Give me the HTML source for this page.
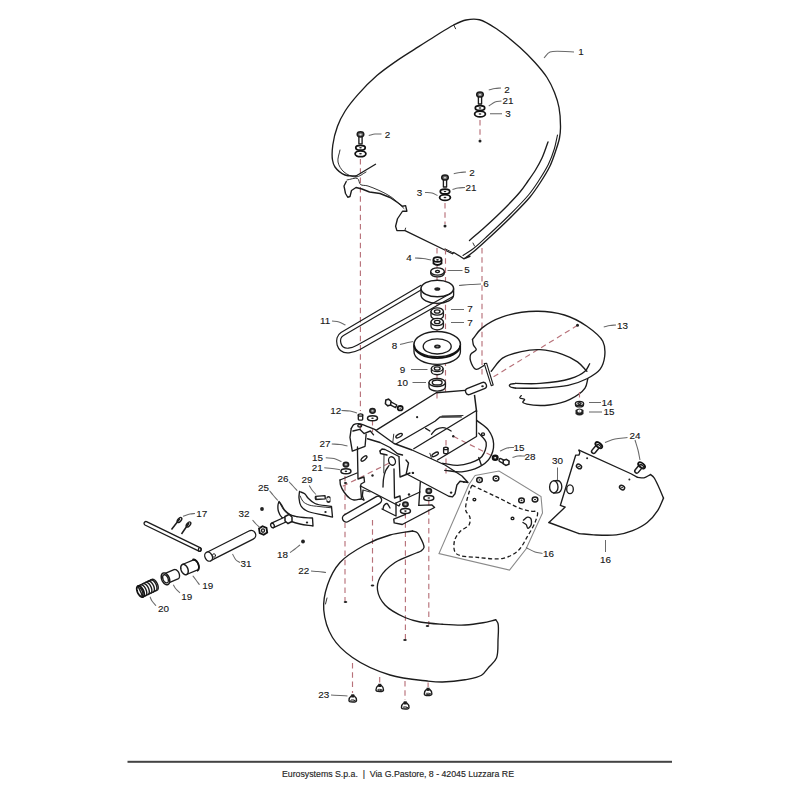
<!DOCTYPE html><html><head><meta charset="utf-8"><style>
html,body{margin:0;padding:0;background:#fff;width:800px;height:800px;overflow:hidden}
svg{display:block}
.k{fill:none;stroke:#1c1c1c;stroke-width:1.35;stroke-linejoin:round;stroke-linecap:round}
.k2{fill:none;stroke:#1c1c1c;stroke-width:1.5}
.k3{fill:none;stroke:#111;stroke-width:1.8}
.kt{fill:none;stroke:#1c1c1c;stroke-width:0.9;stroke-linecap:round}
.f{fill:#222;stroke:none}
.g{fill:none;stroke:#8a8a8a;stroke-width:1.1}
.r{fill:none;stroke:#b8727a;stroke-width:1.15;stroke-dasharray:5.5 3.8}
.ld{fill:none;stroke:#6a6a6a;stroke-width:1.05}
.dk{fill:none;stroke:#1c1c1c;stroke-width:1.3;stroke-dasharray:4 2.5}
text{font-family:"Liberation Sans",sans-serif;font-size:9.9px;fill:#151515;stroke:#151515;stroke-width:0.12px;text-anchor:middle}
.ft{font-size:8.8px;text-anchor:start;fill:#262626;stroke:#262626;stroke-width:0.15px}
</style></head><body>
<svg width="800" height="800" viewBox="0 0 800 800">
<line class="r" x1="360.4" y1="159" x2="360.4" y2="411"/>
<line class="r" x1="480" y1="120" x2="480" y2="139"/>
<line class="r" x1="445" y1="203" x2="445" y2="224"/>
<path class="k" d="M466,257.5 C469,255.17 471.67,253.28 475,250.5 C479.42,246.8 484.68,241.92 490,237 C496.22,231.24 503.41,224.58 510,218 C516.75,211.26 524.65,203.47 530,197 C534.12,192.02 536.77,187.97 540,183 C543.46,177.68 547.28,171.7 550,166 C552.53,160.7 554.34,154.98 556,150 C557.42,145.74 558.75,141.85 559.5,138 C560.17,134.55 560.45,131.93 560.5,128 C560.57,122.38 560.15,113.74 559,107.5 C558,102.05 556.45,97.42 554.5,92.5 C552.48,87.41 550.1,82.34 547,77.5 C543.68,72.32 539.37,67.38 535,62.5 C530.41,57.37 525.66,52.57 520,47.5 C513.4,41.59 504.79,34.34 497.5,29.5 C491.35,25.42 485.25,21.15 479.5,19.75 C474.83,18.61 470.31,19.11 466,20 C461.73,20.88 458.17,22.79 453.75,25 C448.06,27.85 441.37,32.31 435,36.25 C428.27,40.42 421.1,45.09 414.4,49.4 C407.98,53.53 401.79,57.28 395.6,61.6 C389.28,66.01 382.96,70.35 376.9,75.6 C370.44,81.2 363.63,88.13 358.1,94.4 C353.14,100.02 348.55,105.62 345,111.25 C341.86,116.24 339.5,120.85 337.5,126.25 C335.35,132.04 333.59,139.06 332.8,145 C332.1,150.24 331.85,155.99 332.5,160 C332.96,162.82 333.43,164.8 335,167 C337.06,169.89 341.35,173.53 345,175 C348.39,176.37 352.33,175.67 356,176" />
<path class="k" d="M356,176 L375.5,164.25" />
<path class="k" d="M463,255.5 C466.5,253.17 469.8,251.37 473.5,248.5 C478.18,244.87 483.18,239.92 488.5,235 C494.72,229.24 501.91,222.58 508.5,216 C515.25,209.26 523.15,201.47 528.5,195 C532.62,190.02 535.28,185.93 538.5,181 C541.9,175.79 545.61,170.03 548.3,164.5 C550.8,159.36 552.74,154.09 554.3,149 C555.75,144.27 556.43,139.67 557.5,135" style="stroke-width:1.1"/>
<path class="kt" d="M340,150 C339.33,154 337.3,158.3 338,162 C338.69,165.62 341.13,169.52 344,172 C347.03,174.62 352.21,177.13 356,177 C359.51,176.88 362.67,173.67 366,172" />
<path class="k" d="M548,142 C546,147.33 544.22,153.12 542,158 C540.01,162.36 537.85,166.14 535.5,170 C533.18,173.81 530.57,177.35 528,181 C525.4,184.69 523.44,187.88 520,192 C514.98,198.02 506.27,206.79 500,213 C494.72,218.22 490.08,222.42 485,227 C479.91,231.59 474.67,236 469.5,240.5" />
<path class="kt" d="M473,243 L474.5,246" />
<path class="kt" d="M453.75,25 L455.6,28.75" />
<path class="k" d="M346.25,181.5 L344,186 L345.5,193.5 L347.75,197.25 L350,196.5 L351.5,190.5 L356,187.5 L362,189 L369.5,192 L380,193.5 L390,197.5 L397.5,202.5 L402.5,206.25 L405.6,205.6 L406.9,211.25 L402.5,211.25 L397.5,218.75 L395.6,226.25 L396.9,230.6 L405,230.6 L452.5,253.75 L453.75,252.5 L460,256.25 L463.75,258.75 L470,256.25" />
<path class="kt" d="M347,180 C350.5,179.5 355.25,177.32 357.5,178.5 C359.29,179.44 358.85,183.24 360.5,184.5 C362.26,185.84 364.91,184.99 368,186 C373.57,187.83 384.2,192.36 390.5,196.5 C395.87,200.03 399.5,204.5 404,208.5" />
<rect class="k" x="358.9" y="135.8" width="3.2" height="8" style="fill:#fff"/>
<ellipse class="k2" cx="360.5" cy="134.3" rx="3.3" ry="2.6" style="fill:#6a6a6a"/>
<ellipse class="k" cx="360.5" cy="134.6" rx="1.2" ry="0.8" style="fill:#ddd;stroke:none"/>
<ellipse class="k3" cx="360.5" cy="147.8" rx="4.7" ry="2.4" style="fill:#fff"/>
<ellipse class="f" cx="360.5" cy="147.8" rx="1.3" ry="0.7" />
<ellipse class="k3" cx="360.5" cy="153.8" rx="5.4" ry="2.9" style="fill:#fff"/>
<ellipse class="f" cx="360.5" cy="153.8" rx="1.4" ry="0.8" />
<text x="387.5" y="137.8">2</text>
<path class="ld" d="M368.75,135.5 C370.83,135 372.88,134.25 375,134 C377.13,133.75 379.33,134 381.5,134" />
<rect class="k" x="478.4" y="96" width="3.2" height="8" style="fill:#fff"/>
<ellipse class="k2" cx="480" cy="94.5" rx="3.3" ry="2.6" style="fill:#6a6a6a"/>
<ellipse class="k" cx="480" cy="94.8" rx="1.2" ry="0.8" style="fill:#ddd;stroke:none"/>
<ellipse class="k3" cx="480" cy="108" rx="4.7" ry="2.4" style="fill:#fff"/>
<ellipse class="f" cx="480" cy="108" rx="1.3" ry="0.7" />
<ellipse class="k3" cx="480" cy="114" rx="5.4" ry="2.9" style="fill:#fff"/>
<ellipse class="f" cx="480" cy="114" rx="1.4" ry="0.8" />
<circle cx="480" cy="141" r="1.5" fill="#222"/>
<text x="507" y="92.8">2</text>
<path class="ld" d="M488.75,90 C490.83,89.5 492.93,88.83 495,88.5 C497.01,88.18 499,88.17 501,88" />
<text x="508" y="104.3">21</text>
<path class="ld" d="M488.75,106 C490.83,104.67 492.8,102.83 495,102 C497.07,101.22 499.33,101.33 501.5,101" />
<text x="508" y="116.8">3</text>
<path class="ld" d="M490,113.75 C494,113.75 498,113.75 502,113.75" />
<rect class="k" x="443.4" y="179" width="3.2" height="8" style="fill:#fff"/>
<ellipse class="k2" cx="445" cy="177.5" rx="3.3" ry="2.6" style="fill:#6a6a6a"/>
<ellipse class="k" cx="445" cy="177.8" rx="1.2" ry="0.8" style="fill:#ddd;stroke:none"/>
<ellipse class="k3" cx="445" cy="191.5" rx="4.7" ry="2.4" style="fill:#fff"/>
<ellipse class="f" cx="445" cy="191.5" rx="1.3" ry="0.7" />
<ellipse class="k3" cx="445" cy="197.5" rx="5.4" ry="2.9" style="fill:#fff"/>
<ellipse class="f" cx="445" cy="197.5" rx="1.4" ry="0.8" />
<circle cx="445" cy="226" r="1.5" fill="#222"/>
<text x="472" y="175.8">2</text>
<path class="ld" d="M453.75,173.75 C455.83,173.33 457.93,172.79 460,172.5 C462.01,172.22 464,172.17 466,172" />
<text x="471" y="191.3">21</text>
<path class="ld" d="M452.5,189.5 C454.33,189 456.04,188.33 458,188 C460.18,187.63 462.67,187.67 465,187.5" />
<text x="419.5" y="195.8">3</text>
<path class="ld" d="M425,192.5 C427.33,192.67 429.85,192.45 432,193 C433.99,193.51 435.67,194.67 437.5,195.5" />
<text x="581" y="55.3">1</text>
<path class="ld" d="M544,58 C546,56 546.97,53.25 550,52 C555.09,49.89 566,52 574,52" />
<line class="r" x1="437" y1="248" x2="437" y2="256"/>
<line class="r" x1="437" y1="266" x2="437" y2="283"/>
<line class="r" x1="445.5" y1="249" x2="445.5" y2="392"/>
<line class="r" x1="437" y1="300" x2="437" y2="400"/>
<line class="r" x1="482" y1="248" x2="482" y2="378"/>
<path class="kt" d="M445,248.75 L452.5,252.5" />
<path class="kt" d="M405,230 L405.6,228.1" />
<path class="k3" style="fill:#fff" d="M433.5,259.5 L433.5,263.5 Q437.5,266.5 441.5,263.5 L441.5,259.5"/>
<ellipse class="k3" cx="437.5" cy="259.5" rx="4" ry="2.4" style="fill:#fff"/>
<ellipse class="f" cx="437.5" cy="259.8" rx="1.4" ry="0.9" />
<text x="409" y="261.3">4</text>
<path class="ld" d="M415,258 C417.67,258.17 420.34,258.17 423,258.5 C425.68,258.83 428.33,259.5 431,260" />
<path class="k" style="fill:#fff" d="M430.7,271.5 L430.7,273.3 A6.8,3.6 0 0 0 444.3,273.3 L444.3,271.5"/>
<ellipse class="k" cx="437.5" cy="271.5" rx="6.8" ry="3.6" style="fill:#fff"/>
<ellipse class="k" cx="437.5" cy="271.5" rx="2.04" ry="1.08" />
<text x="467" y="273.3">5</text>
<path class="ld" d="M447.5,270.5 C452.5,270.5 457.5,270.5 462.5,270.5" />
<path class="k" style="fill:#fff" d="M421,289 L421,295 A16.3,8.3 0 0 0 453.6,295 L453.6,289"/>
<ellipse class="k2" cx="437.3" cy="288.5" rx="16.3" ry="8.3" style="fill:#fff"/>
<ellipse class="f" cx="437.3" cy="289" rx="3" ry="1.8" />
<text x="486" y="287.3">6</text>
<path class="ld" d="M459,285.5 C462.67,285.17 466.33,284.75 470,284.5 C473.66,284.25 477.33,284.17 481,284" />
<path class="k" style="fill:#fff" d="M431,311.5 L431,315.7 A6.2,3.6 0 0 0 443.4,315.7 L443.4,311.5"/>
<ellipse class="k" cx="437.2" cy="311.5" rx="6.2" ry="3.6" style="fill:#fff"/>
<ellipse class="k" cx="437.2" cy="311.5" rx="2.79" ry="1.62" />
<path class="k" style="fill:#fff" d="M431,322 L431,326.2 A6.2,3.6 0 0 0 443.4,326.2 L443.4,322"/>
<ellipse class="k" cx="437.2" cy="322" rx="6.2" ry="3.6" style="fill:#fff"/>
<ellipse class="k" cx="437.2" cy="322" rx="2.79" ry="1.62" />
<text x="470" y="312.3">7</text>
<path class="ld" d="M451,309.5 C455.33,309.5 459.67,309.5 464,309.5" />
<text x="470" y="325.8">7</text>
<path class="ld" d="M451,322.5 C455.33,322.5 459.67,322.5 464,322.5" />
<path class="k" style="fill:#fff" d="M414,344.2 L414,351.8 A23.2,12.6 0 0 0 460.4,351.8 L460.4,344.2"/>
<ellipse class="k2" cx="437.2" cy="344.2" rx="23.2" ry="12.6" style="fill:#fff"/>
<path class="k3" d="M414.2,345.5 A23,12.6 0 0 0 460.2,345.5"/>
<ellipse class="k" cx="437.2" cy="346.4" rx="14" ry="7.6" />
<ellipse class="f" cx="437.4" cy="346.5" rx="3.3" ry="2.1" />
<ellipse class="k" cx="437.4" cy="346.5" rx="1.3" ry="0.8" style="fill:#888;stroke:none"/>
<text x="394.5" y="348.8">8</text>
<path class="ld" d="M400,344.5 C402,344 403.92,343.48 406,343 C408.24,342.48 410.67,342 413,341.5" />
<path class="k" style="fill:#fff" d="M431.4,368.5 L431.4,371.5 A5.8,3.2 0 0 0 443,371.5 L443,368.5"/>
<ellipse class="k" cx="437.2" cy="368.5" rx="5.8" ry="3.2" style="fill:#fff"/>
<ellipse class="k" cx="437.2" cy="368.5" rx="2.9" ry="1.6" />
<text x="402.5" y="372.8">9</text>
<path class="ld" d="M411,369.5 C416.5,369.5 422,369.5 427.5,369.5" />
<path class="k" style="fill:#fff" d="M429,382.5 L429,387 A8.2,4.2 0 0 0 445.4,387 L445.4,382.5"/>
<ellipse class="k" cx="437.2" cy="382.5" rx="8.2" ry="4.2" style="fill:#fff"/>
<ellipse class="k" cx="437.2" cy="382.5" rx="4.92" ry="2.52" />
<text x="402.5" y="385.8">10</text>
<path class="ld" d="M412.5,382.5 C417,382.5 421.5,382.5 426,382.5" />
<path class="k" d="M421,285.3 L341,332.5 C333,337.5 336,354 349,352.8 C353,352.5 356,351.5 360,349.5 L453,296.5" style="stroke-width:1.2"/>
<path class="k" d="M421,290 L343.5,335.5 C338.5,338.5 340,349 348.5,348.2 C351,348 354,347 357,345.3 L450.5,293.5" style="stroke-width:1.2"/>
<text x="325" y="324.3">11</text>
<path class="ld" d="M332,321 C334.33,321.33 336.76,321.34 339,322 C341.26,322.67 343.33,324 345.5,325" />
<line class="r" x1="577.5" y1="325.3" x2="492.5" y2="377.5"/>
<circle cx="577.5" cy="325.3" r="1.5" fill="#222"/>
<path class="k" d="M472.5,339.38 C475.63,335.63 477.73,331.53 481.88,328.13 C487.12,323.82 494.52,319.63 502.5,316.88 C512.14,313.55 525.5,311.43 536.25,311.25 C546.04,311.09 555.73,312.34 564.38,315 C572.53,317.5 580.32,321.67 586.88,326.25 C593.01,330.53 600,335.7 602.82,341.25 C605.17,345.87 605.22,351.48 604.7,356.25 C604.19,360.84 602.78,365.71 600.01,369.38 C597.03,373.32 591.85,376.18 586.88,378.75 C581.37,381.62 575.12,383.77 568.13,385.32 C559.8,387.16 549.06,387.68 540,388.13 C531.6,388.55 523.75,388.13 515.63,388.13" />
<path class="k" d="M515.63,388.13 C513.75,387.63 510.82,387.51 510,386.63 C509.53,386.13 509.31,385.24 509.63,384.76 C510.2,383.88 513.63,383.88 515.63,383.44" />
<path class="k" d="M515.63,383.44 C523.75,383.44 531.48,384.1 540,383.44 C549.51,382.7 561.88,381.35 570.01,378.75 C576.04,376.83 581.66,374.3 585.01,371.25 C587.44,369.04 588.13,366.25 589.7,363.75" />
<path class="k" d="M491.25,371.25 C495,366.88 497.75,361.38 502.5,358.13 C507.6,354.65 514.92,352.97 521.25,351.57 C527.42,350.2 533.5,349.35 540,349.69 C547.19,350.07 555.89,352.08 562.51,354.38 C568.15,356.34 573.29,358.84 577.51,361.88 C581.25,364.58 583.76,368.13 586.88,371.25" />
<path class="k" d="M521.25,395.63 C520.75,396.38 519.54,397.29 519.75,397.88 C520.04,398.69 524.32,398.52 524.63,399.38 C524.88,400.08 522.54,401.44 522.75,402.19 C523,403.07 524.89,403.59 526.88,404.07 C531.32,405.13 542.1,405.83 549.38,405.01 C556.47,404.21 563.92,402.36 570.01,399.38 C575.7,396.6 582.16,392.21 585.01,388.13 C587.07,385.18 586.88,381.88 587.82,378.75" />
<path class="k" d="M472.5,339.38 C472.81,341.25 472.8,343.27 473.44,345 C474.06,346.7 476.5,348.23 476.25,349.69 C475.96,351.39 471.49,352.26 470.63,354.38 C469.64,356.78 470.47,361.16 471.56,363.75 C472.52,366.04 474.31,368.97 476.25,369.38 C478.32,369.81 481.25,366.88 483.75,365.63" />
<path class="k" d="M484.2,363.5 L491.2,385.6 L493.2,385 L486.6,363.2Z" style="stroke-width:1.1"/>
<line class="r" x1="579.5" y1="392" x2="579.5" y2="400"/>
<path class="k" style="fill:#fff" d="M575.5,403.5 L575.5,404.7 A4,2.2 0 0 0 583.5,404.7 L583.5,403.5"/>
<ellipse class="k" cx="579.5" cy="403.5" rx="4" ry="2.2" style="fill:#fff"/>
<ellipse class="k" cx="579.5" cy="403.5" rx="1.6" ry="0.88" />
<path class="f" d="M575.5,410 L575.5,414 Q579.5,417 583.5,414 L583.5,410 Q579.5,407 575.5,410Z"/>
<ellipse class="k" cx="579.5" cy="411" rx="1.4" ry="0.9" style="stroke:#fff"/>
<text x="607" y="405.8">14</text>
<path class="ld" d="M589,402.5 C593,402.5 597,402.5 601,402.5" />
<text x="609" y="415.05">15</text>
<path class="ld" d="M589,412 C593.33,412 597.67,412 602,412" />
<text x="622.5" y="328.8">13</text>
<path class="ld" d="M603.75,327 C605.83,326.5 607.93,325.83 610,325.5 C612.01,325.18 614,325.17 616,325" />
<line class="r" x1="360.4" y1="424" x2="360.4" y2="432"/>
<line class="r" x1="345" y1="476" x2="345" y2="601"/>
<line class="r" x1="372.5" y1="420" x2="372.5" y2="432"/>
<line class="r" x1="372.5" y1="520" x2="372.5" y2="585"/>
<line class="r" x1="405.4" y1="513" x2="405.4" y2="640"/>
<line class="r" x1="428.8" y1="500" x2="428.8" y2="625"/>
<line class="r" x1="446" y1="440" x2="446" y2="475"/>
<line class="r" x1="342.75" y1="486.25" x2="389.5" y2="462.87"/>
<line class="r" x1="453.25" y1="436.31" x2="491.5" y2="455.44"/>
<path class="k" d="M476.62,420.37 C480.52,423.56 485.47,426.01 488.31,429.94 C491.12,433.82 493.41,439.02 493.62,443.75 C493.84,448.58 492.01,454.66 489.37,458.62 C486.9,462.34 482.96,464.97 478.75,467.12 C473.95,469.57 467.46,471.28 461.75,471.8 C456.13,472.31 450.41,470.81 444.75,470.31" />
<path class="k" d="M478.75,433.12 C481.23,436.31 485.51,439.01 486.18,442.69 C486.92,446.7 484.7,453.11 481.93,456.5 C479.28,459.75 474.35,461.38 470.25,462.87 C466.2,464.34 461.92,465.3 457.5,465.42 C452.74,465.55 447.58,464.01 442.62,463.3" />
<path class="k" d="M478.75,457.56 L481.3,465" />
<ellipse class="k" cx="483" cy="434.19" rx="1.5" ry="1.3" />
<path class="k" d="M376.75,429.94 L436.25,392.75 L468.12,390.2" />
<rect class="k" style="fill:#fff" x="465" y="385.3" width="22" height="6.4" rx="3.2" transform="rotate(-22 476 388.5)"/>
<ellipse class="f" cx="482.5" cy="386.2" rx="1.3" ry="1" />
<path class="k2" d="M474.5,394.87 L476.62,411.87" />
<circle cx="417.12" cy="417.19" r="1.1" fill="#222"/>
<ellipse class="k" cx="399.06" cy="435.67" rx="3.6" ry="1.5" transform="rotate(-30 399.06 435.67)"/>
<path class="kt" d="M393.75,434.19 L392.9,441.62" />
<path class="k" d="M413.75,448.75 L476.5,410.5 L476.5,436.5 L437.5,460" />
<path class="k" d="M396.25,443.75 L435,421.25 L440,417 L461.25,416.9" />
<path class="kt" d="M442,416 L463,415.5" />
<path class="k" d="M431.57,434.19 C433.13,432.56 434.24,430.37 436.25,429.3 C438.51,428.09 442.17,427.43 444.75,427.81 C447.09,428.15 449,429.94 451.12,431" />
<path class="k" d="M425.62,428.45 L429.87,431" />
<circle cx="453.25" cy="436.31" r="1.2" fill="#222"/>
<ellipse class="k" cx="435.18" cy="454.37" rx="3.6" ry="1.5" transform="rotate(-30 435.18 454.37)"/>
<path class="kt" d="M429.87,453.31 L431.57,458.62" />
<path class="k" style="fill:#fff" d="M443.61,448.42 l0,4 a2.2,1.2 0 0 0 4.4,0 l0,-4"/>
<ellipse class="k" cx="445.81" cy="448.42" rx="2.2" ry="1.2" style="fill:#fff"/>
<path class="k" d="M351.25,428.45 C352.1,427.17 352.6,425.44 353.8,424.62 C355.05,423.77 357.03,423.51 358.69,423.56 C360.43,423.61 361.91,424.32 364,425.05 C367.16,426.15 371.79,428.31 375.69,429.94" />
<path class="k" d="M351.25,428.45 L349.97,437.37 L352.31,451.19 L365.06,446.3 L366.12,434.19" />
<path class="k" d="M352.95,431 L359.75,429.3 L364,433.55 L370.37,431 L373.56,434.82" />
<ellipse class="k" cx="359.75" cy="425.69" rx="2" ry="1.3" />
<path class="k" d="M376,430.5 L394,443.5 L412,450 L445,465 L462,476 L468,482.5 L465,482 L460,481.25 L456.9,485 L455,493.75 L452.5,496.9 L448.75,496.25 L406.25,473.75 L408.5,463 L406,460" />
<path class="k" d="M367.5,438.75 L380,442.5 L390,447.5 L397.5,453.75 L402.5,455" />
<circle cx="412.87" cy="472.86" r="1.2" fill="#222"/>
<circle cx="451.12" cy="492.62" r="1.2" fill="#222"/>
<circle cx="463.87" cy="482" r="1" fill="#222"/>
<path class="k" d="M357.5,447 L357.5,453 L358,479 L364,477 L364.5,482 L361,484 L360.5,487" />
<ellipse class="k" cx="364" cy="458.5" rx="3.6" ry="1.5" transform="rotate(-40 364 458.5)"/>
<circle cx="372.5" cy="475.5" r="1.2" fill="#222"/>
<path class="k" d="M380,451 L382,449 L385,449.5 L399,456.5" />
<path class="k" d="M380,451 L380.5,453.5 L387,455" />
<ellipse class="k" cx="392" cy="461" rx="3.3" ry="4.3" transform="rotate(-20 392 461)"/>
<path class="k" d="M389,465.5 C387.83,467.33 386.4,468.91 385.5,471 C384.49,473.35 383.92,476.31 383.5,479 C383.09,481.65 383.17,484.33 383,487" />
<path class="k" d="M394,469 L394.5,498 L400,496 L400.5,501" />
<path class="kt" d="M384,455 L383.8,473" />
<path class="k" d="M399,457 L400,477 L410,473" />
<circle cx="413" cy="473" r="1.1" fill="#222"/>
<circle cx="409" cy="494.5" r="1.2" fill="#222"/>
<path class="k" d="M396,503 L420,492" />
<path class="k" d="M357,473 L340,480" />
<path class="k" d="M340,480 C340.17,481.67 339.99,483.24 340.5,485 C341.13,487.19 342.49,489.81 344,492 C345.61,494.33 348.05,497.19 350,498.5 C351.36,499.41 352.46,499.83 354,500 C355.99,500.22 358.67,499.33 361,499" />
<ellipse class="f" cx="345.5" cy="483" rx="1.6" ry="1" />
<path class="k" d="M360.5,486 L399,506 L400,504" />
<path class="k" d="M360.5,486 L361.5,499 L363.5,500" />
<path class="k" d="M363,490.5 C362.83,492.33 362.28,494.34 362.5,496 C362.7,497.46 363.5,498.67 364,500" />
<path class="kt" d="M363,490 L370,492" />
<path class="k" d="M396,503 L396,516 L382,509" />
<path class="k" d="M383,509 C383.33,507.83 383.33,506.42 384,505.5 C384.67,504.59 386.08,503.32 387,503.5 C388.12,503.72 389,506.5 390,508" />
<rect class="k" style="fill:#fff" x="342.5" y="514.4" width="43.9" height="7.6" rx="3.8" transform="rotate(-29.9 346.3 518.2)"/>
<path class="k" d="M420.31,482 L418.82,505.37" />
<path class="k" d="M418.82,505.37 L432,504.95 L434.55,507.5 L402.25,524.5 L394.17,522.8 L393.75,519.18 L405.44,514.3" />
<ellipse class="k2" cx="345.94" cy="464.57" rx="2.7" ry="2.4" style="fill:#666"/>
<ellipse class="k" cx="345.94" cy="464.57" rx="1" ry="0.8" style="fill:#ccc;stroke:none"/>
<ellipse class="k2" cx="345.94" cy="471.37" rx="5" ry="2.5" />
<ellipse class="f" cx="345.94" cy="471.37" rx="1.3" ry="0.8" />
<ellipse class="k2" cx="428.81" cy="490.92" rx="2.7" ry="2.4" style="fill:#666"/>
<ellipse class="k" cx="428.81" cy="490.92" rx="1" ry="0.8" style="fill:#ccc;stroke:none"/>
<ellipse class="k2" cx="428.81" cy="497.93" rx="5" ry="2.5" />
<ellipse class="f" cx="428.81" cy="497.93" rx="1.3" ry="0.8" />
<ellipse class="k2" cx="405.44" cy="504.31" rx="2.7" ry="2.4" style="fill:#666"/>
<ellipse class="k" cx="405.44" cy="504.31" rx="1" ry="0.8" style="fill:#ccc;stroke:none"/>
<ellipse class="k2" cx="405.44" cy="511.11" rx="5" ry="2.5" />
<ellipse class="f" cx="405.44" cy="511.11" rx="1.3" ry="0.8" />
<ellipse class="k2" cx="372.5" cy="410.81" rx="2.7" ry="2.4" style="fill:#666"/>
<ellipse class="k" cx="372.5" cy="410.81" rx="1" ry="0.8" style="fill:#ccc;stroke:none"/>
<ellipse class="k2" cx="372.5" cy="418.25" rx="5" ry="2.5" />
<ellipse class="f" cx="372.5" cy="418.25" rx="1.3" ry="0.8" />
<path class="k" style="fill:#fff" d="M358.3,415 L358.3,419 A2.2,1.2 0 0 0 362.7,419 L362.7,415"/>
<ellipse class="k" cx="360.5" cy="415" rx="2.2" ry="1.2" style="fill:#fff"/>
<text x="335.8" y="414.1">12</text>
<path class="ld" d="M341.5,410.5 C344.33,410.67 347.33,410.55 350,411 C352.47,411.42 354.67,412.33 357,413" />
<path class="k" style="fill:#fff" d="M389.5,401.2 L396.8,405 L395.6,407.6 L388.3,403.8Z"/>
<path class="k2" style="fill:#fff" d="M385.8,400 L388.6,399.2 L391,401.3 L390.6,405 L387.8,405.8 L385.4,403.7Z"/>
<ellipse class="k3" cx="400.2" cy="408.2" rx="2.5" ry="2.2" style="fill:#fff"/>
<ellipse class="f" cx="400.2" cy="408.2" rx="0.8" ry="0.6" />
<text x="325" y="447.3">27</text>
<path class="ld" d="M331.75,444 C334.5,444.17 337.33,444.15 340,444.5 C342.57,444.83 345,445.5 347.5,446" />
<text x="317.5" y="461.05">15</text>
<path class="ld" d="M325.75,457.75 C328.5,458 331.36,457.87 334,458.5 C336.61,459.13 339,460.5 341.5,461.5" />
<text x="317.2" y="471.1">21</text>
<path class="ld" d="M324.25,467.8 C326.83,468.03 329.4,468.18 332,468.5 C334.65,468.83 337.33,469.33 340,469.75" />
<path class="k" d="M412.5,531 C405,532.33 397.58,532.83 390,535 C381.77,537.35 373.09,540.63 365,545 C356.39,549.66 346.35,555.45 340,562.5 C334.16,568.97 330.21,577.04 327.5,585 C324.82,592.89 323.08,601.55 323.75,610 C324.47,619.03 327.67,629.56 332.5,637.5 C337.29,645.36 344.17,651.67 352.5,657.5 C362.57,664.55 377.22,671.08 390,675 C402.24,678.76 417.79,679.9 427.5,681 C433.61,681.69 437,682.09 442.5,682 C449.25,681.89 458.13,681.02 465,679.75 C470.98,678.64 477.33,677.8 481.5,675.25 C484.87,673.19 486.53,669.84 489,667 C491.53,664.09 494.94,661.82 496.5,658 C498.44,653.26 497.76,645.87 498,640 C498.23,634.39 498.96,626.97 498,623.5 C497.5,621.71 496.5,621 495.75,619.75" />
<path class="k" d="M412.5,531 C414,531.5 415.82,531.63 417,532.5 C418.12,533.33 418.65,534.43 419.5,536 C420.94,538.67 424.45,544.86 424,547.5 C423.73,549.11 422.15,550.16 421,551 C419.96,551.77 418.67,552 417.5,552.5" />
<path class="k" d="M417.5,552.5 C410,555.83 401.4,558.1 395,562.5 C389.06,566.58 382.79,572.29 380,577.5 C377.84,581.54 376.93,585.74 377.5,590 C378.15,594.88 381.07,600.68 385,605 C389.66,610.12 398.63,614.61 405,617.5 C410.19,619.85 414.44,620.9 420,622 C426.69,623.32 434.99,623.75 442.5,624.25 C449.99,624.75 457.93,625.32 465,625 C471.35,624.71 477.54,623.73 483,622.75 C487.64,621.92 491.5,620.75 495.75,619.75" />
<path class="kt" d="M327,598 L325.5,604" />
<ellipse class="f" cx="345.5" cy="602" rx="1.8" ry="1.1" />
<ellipse class="f" cx="372.5" cy="585.5" rx="1.8" ry="1.1" />
<ellipse class="f" cx="405" cy="640" rx="1.8" ry="1.1" />
<ellipse class="f" cx="427.5" cy="626" rx="1.8" ry="1.1" />
<text x="303.75" y="574.3">22</text>
<path class="ld" d="M311,571 C313.33,571.17 315.59,571.26 318,571.5 C320.58,571.75 323.33,572.17 326,572.5" />
<line class="r" x1="352.5" y1="663" x2="352.5" y2="693"/>
<line class="r" x1="379.7" y1="677" x2="379.7" y2="683.5"/>
<line class="r" x1="405" y1="681" x2="405" y2="700"/>
<line class="r" x1="428.1" y1="682.5" x2="428.1" y2="687"/>
<path class="k" style="fill:#fff" d="M351.15,696.00 L354.35,696.00 Q356.55,697.50 356.55,700.50 A3.8,1.6 0 0 1 348.95,700.50 Q348.95,697.50 351.15,696.00 Z"/>
<rect x="351.25" y="694.30" width="3" height="3.2" fill="#1c1c1c"/>
<ellipse class="kt" cx="352.75" cy="700.5" rx="2.2" ry="0.7" />
<path class="k" style="fill:#fff" d="M378.15,685.50 L381.35,685.50 Q383.55,687.00 383.55,690.00 A3.8,1.6 0 0 1 375.95,690.00 Q375.95,687.00 378.15,685.50 Z"/>
<rect x="378.25" y="683.80" width="3" height="3.2" fill="#1c1c1c"/>
<ellipse class="kt" cx="379.75" cy="690" rx="2.2" ry="0.7" />
<path class="k" style="fill:#fff" d="M403.65,703.00 L406.85,703.00 Q409.05,704.50 409.05,707.50 A3.8,1.6 0 0 1 401.45,707.50 Q401.45,704.50 403.65,703.00 Z"/>
<rect x="403.75" y="701.30" width="3" height="3.2" fill="#1c1c1c"/>
<ellipse class="kt" cx="405.25" cy="707.5" rx="2.2" ry="0.7" />
<path class="k" style="fill:#fff" d="M426.50,689.40 L429.70,689.40 Q431.90,690.90 431.90,693.90 A3.8,1.6 0 0 1 424.30,693.90 Q424.30,690.90 426.50,689.40 Z"/>
<rect x="426.60" y="687.70" width="3" height="3.2" fill="#1c1c1c"/>
<ellipse class="kt" cx="428.1" cy="693.9" rx="2.2" ry="0.7" />
<text x="323.75" y="697.8">23</text>
<path class="ld" d="M331,695 C334,695.17 337.14,695.33 340,695.5 C342.61,695.66 345,695.83 347.5,696" />
<path class="k" style="fill:#fff" d="M146.5,521.6 L200.5,547.8 A1.9,1.9 0 0 1 198.9,551.2 L144.9,525 A1.9,1.9 0 0 1 146.5,521.6Z"/>
<ellipse class="k" cx="199.7" cy="549.5" rx="1.3" ry="1.9" />
<path class="k2" d="M171.5,529.5 L180,518.5" />
<ellipse class="k" cx="179.50" cy="520.00" rx="1.6" ry="3" transform="rotate(40 179.50 520.00)"/>
<path class="k2" d="M181.5,534 L189,523" />
<ellipse class="k" cx="188.50" cy="524.50" rx="1.6" ry="3" transform="rotate(40 188.50 524.50)"/>
<text x="201.75" y="517.1">17</text>
<path class="ld" d="M183,516.2 C185.33,515.47 187.84,514.44 190,514 C191.79,513.63 193.33,513.67 195,513.5" />
<path class="k" style="fill:#fff" d="M206.5,552.5 L249,531 A4.6,4.6 0 0 1 253.2,539.2 L210.7,560.7"/>
<ellipse class="k" style="fill:#fff" cx="208.6" cy="556.6" rx="3.6" ry="4.8" transform="rotate(-27 208.6 556.6)"/>
<ellipse class="kt" cx="214" cy="555.5" rx="1.5" ry="1.8" />
<text x="246" y="567.3">31</text>
<path class="ld" d="M232.5,554 C233.67,556 234.59,558.54 236,560 C237.17,561.2 238.67,561.67 240,562.5" />
<path class="k3" style="fill:#fff" d="M259,528.5 L262.5,526.2 L266.5,527.8 L267.2,532.5 L263.7,534.8 L259.7,533.2Z"/>
<ellipse class="k" cx="263" cy="530.6" rx="1.5" ry="1.7" />
<circle cx="262" cy="509" r="1.9" fill="#222"/>
<text x="244" y="517.3">32</text>
<path class="ld" d="M252.5,520 C253.67,521.33 254.75,522.75 256,524 C257.25,525.25 258.67,526.33 260,527.5" />
<path class="k" d="M182.45,564.5 L192.95,560.2 L193.38,560.08 L193.84,560.04 L194.31,560.09 L194.8,560.23 L195.29,560.45 L195.78,560.76 L196.25,561.14 L196.7,561.59 L197.12,562.1 L197.51,562.66 L197.85,563.27 L198.15,563.91 L198.39,564.57 L198.57,565.25 L198.69,565.92 L198.75,566.58 L198.74,567.22 L198.67,567.82 L198.54,568.38 L198.35,568.88 L198.09,569.32 L197.79,569.69 L197.44,569.99 L197.05,570.2 L186.55,574.5Z" style="fill:#fff"/>
<path class="k3" d="M192.45,559.78 L192.89,559.59 L193.38,559.5 L193.89,559.52 L194.42,559.64 L194.97,559.88 L195.51,560.21 L196.05,560.64 L196.56,561.16 L197.05,561.75 L197.5,562.41 L197.89,563.12 L198.24,563.87 L198.52,564.65 L198.74,565.44 L198.88,566.22 L198.95,566.99 L198.95,567.72 L198.86,568.4 L198.71,569.02 L198.49,569.57 L198.19,570.03 L197.84,570.4 L197.44,570.68 L196.98,570.85" />
<path class="k2" d="M187.65,568.21 L187.95,569.1 L188.16,570 L188.25,570.88 L188.23,571.73 L188.09,572.5 L187.85,573.18 L187.5,573.76 L187.06,574.2 L186.55,574.5 L185.97,574.65 L185.35,574.64 L184.7,574.47 L184.05,574.16 L183.41,573.7 L182.8,573.11 L182.24,572.42 L181.76,571.64 L181.35,570.79 L181.05,569.9 L180.84,569 L180.75,568.12 L180.77,567.27 L180.91,566.5 L181.15,565.82 L181.5,565.24 L181.94,564.8 L182.45,564.5 L183.03,564.35 L183.65,564.36 L184.3,564.53 L184.95,564.84 L185.59,565.3 L186.2,565.89 L186.76,566.58 L187.24,567.36 L187.65,568.21Z" style="fill:#fff"/>
<path class="k" d="M163.53,574.2 L174.03,569.7 L174.43,569.58 L174.86,569.53 L175.31,569.57 L175.76,569.69 L176.23,569.89 L176.69,570.16 L177.13,570.5 L177.56,570.91 L177.96,571.38 L178.33,571.89 L178.66,572.45 L178.94,573.04 L179.17,573.65 L179.35,574.27 L179.47,574.89 L179.53,575.51 L179.53,576.1 L179.47,576.66 L179.35,577.18 L179.18,577.65 L178.95,578.06 L178.66,578.41 L178.34,578.69 L177.97,578.9 L167.47,583.4Z" style="fill:#fff"/>
<path class="k2" d="M168.99,577.3 L169.36,578.32 L169.62,579.34 L169.75,580.35 L169.75,581.32 L169.62,582.2 L169.36,582.99 L168.99,583.64 L168.51,584.15 L167.94,584.5 L167.3,584.67 L166.6,584.67 L165.87,584.48 L165.13,584.13 L164.39,583.61 L163.7,582.95 L163.05,582.16 L162.48,581.26 L162.01,580.3 L161.64,579.28 L161.38,578.26 L161.25,577.25 L161.25,576.28 L161.38,575.4 L161.64,574.61 L162.01,573.96 L162.49,573.45 L163.06,573.1 L163.7,572.93 L164.4,572.93 L165.13,573.12 L165.87,573.47 L166.61,573.99 L167.3,574.65 L167.95,575.44 L168.52,576.34 L168.99,577.3Z" style="fill:#fff"/>
<path class="k" d="M167.8,577.82 L168.06,578.52 L168.24,579.23 L168.34,579.92 L168.35,580.59 L168.27,581.19 L168.12,581.73 L167.88,582.18 L167.57,582.52 L167.19,582.75 L166.77,582.86 L166.31,582.85 L165.82,582.72 L165.32,582.46 L164.83,582.09 L164.36,581.63 L163.92,581.08 L163.53,580.46 L163.2,579.78 L162.94,579.08 L162.76,578.37 L162.66,577.68 L162.65,577.01 L162.73,576.41 L162.88,575.87 L163.12,575.42 L163.43,575.08 L163.81,574.85 L164.23,574.74 L164.69,574.75 L165.18,574.88 L165.68,575.14 L166.17,575.51 L166.64,575.97 L167.08,576.52 L167.47,577.14 L167.8,577.82Z" />
<text x="207.75" y="588.8">19</text>
<path class="ld" d="M192.75,575.75 C193.83,577.17 194.9,578.54 196,580 C197.15,581.53 198.33,583.17 199.5,584.75" />
<text x="186.75" y="600.3">19</text>
<path class="ld" d="M173.25,584.75 C174.17,586.17 174.92,587.66 176,589 C177.15,590.42 178.67,591.67 180,593" />
<path class="k" d="M137.91,586.09 L151.91,579.39 L152.29,579.27 L152.7,579.24 L153.14,579.3 L153.61,579.47 L154.09,579.72 L154.58,580.06 L155.07,580.48 L155.55,580.97 L156.01,581.53 L156.44,582.15 L156.84,582.81 L157.21,583.5 L157.52,584.22 L157.78,584.95 L157.99,585.67 L158.14,586.38 L158.22,587.07 L158.24,587.71 L158.2,588.31 L158.1,588.84 L157.93,589.3 L157.7,589.69 L157.42,590 L157.09,590.21 L143.09,596.91Z" style="fill:#fff"/>
<path class="k" d="M140.46,584.87 L141.24,584.72 L142.16,584.95 L143.13,585.54 L144.09,586.45 L144.99,587.63 L145.75,588.99 L146.33,590.43 L146.68,591.87 L146.79,593.19 L146.64,594.32 L146.25,595.17 L145.64,595.69" style="stroke-width:1.4"/>
<path class="k" d="M143,583.65 L143.79,583.5 L144.7,583.73 L145.67,584.32 L146.64,585.24 L147.53,586.41 L148.3,587.77 L148.88,589.21 L149.23,590.65 L149.34,591.97 L149.19,593.1 L148.79,593.96 L148.18,594.48" style="stroke-width:1.4"/>
<path class="k" d="M145.55,582.43 L146.33,582.28 L147.25,582.51 L148.22,583.1 L149.18,584.02 L150.08,585.19 L150.84,586.55 L151.42,588 L151.77,589.43 L151.88,590.76 L151.73,591.88 L151.34,592.74 L150.73,593.26" style="stroke-width:1.4"/>
<path class="k" d="M148.09,581.22 L148.88,581.06 L149.79,581.29 L150.76,581.88 L151.73,582.8 L152.63,583.98 L153.39,585.33 L153.97,586.78 L154.32,588.21 L154.43,589.54 L154.28,590.67 L153.88,591.52 L153.27,592.04" style="stroke-width:1.4"/>
<path class="k" d="M150.64,580 L151.43,579.85 L152.34,580.07 L153.31,580.67 L154.28,581.58 L155.17,582.76 L155.93,584.11 L156.51,585.56 L156.87,586.99 L156.97,588.32 L156.82,589.45 L156.43,590.3 L155.82,590.82" style="stroke-width:1.4"/>
<path class="k3" d="M143.21,590.2 L143.61,591.16 L143.93,592.13 L144.14,593.08 L144.24,593.99 L144.22,594.81 L144.1,595.54 L143.86,596.14 L143.52,596.61 L143.09,596.91 L142.58,597.05 L142.01,597.03 L141.39,596.83 L140.74,596.48 L140.09,595.97 L139.45,595.33 L138.84,594.57 L138.28,593.72 L137.79,592.8 L137.39,591.84 L137.07,590.87 L136.86,589.92 L136.76,589.01 L136.78,588.19 L136.9,587.46 L137.14,586.86 L137.48,586.39 L137.91,586.09 L138.42,585.95 L138.99,585.97 L139.61,586.17 L140.26,586.52 L140.91,587.03 L141.55,587.67 L142.16,588.43 L142.72,589.28 L143.21,590.2Z" />
<path class="k" d="M139.82,587.99 L140.43,588.4 L141.04,589.02 L141.62,589.82 L142.12,590.72 L142.52,591.68 L142.77,592.63 L142.87,593.5 L142.81,594.24 L142.59,594.78 L142.23,595.11 L141.75,595.19 L141.18,595.01" />
<text x="163.5" y="612.3">20</text>
<path class="ld" d="M150,596.75 C150.67,598.17 151.1,599.6 152,601 C153.03,602.61 154.67,604.17 156,605.75" />
<path class="k" d="M279,501.5 C279.83,502.67 280.62,503.69 281.5,505 C282.59,506.61 283.57,508.91 285,510.5 C286.41,512.07 287.91,513.44 290,514.5 C292.65,515.85 296.45,516.61 300,517.2 C303.9,517.85 308.33,517.73 312.5,518 L313.00,526.00 L313,526 C308.67,525.33 304.02,524.91 300,524 C296.42,523.19 293.12,522.14 290,521 C287.15,519.95 283.95,519.24 282,517.5 C280.26,515.95 279.16,513.62 278.5,511.5 C277.86,509.45 277.82,506.82 278,505 C278.14,503.64 278.67,502.67 279,501.5" />
<path class="kt" d="M279.8,502.5 C280.87,504.67 281.62,507.07 283,509 C284.36,510.9 285.9,512.73 288,514 C290.42,515.46 294,515.87 297,516.8" />
<ellipse class="f" cx="307" cy="522.5" rx="1.2" ry="1" />
<path class="k" style="fill:#fff" d="M271.5,523.2 L285,517 L287,521.5 L273.5,527.7Z"/>
<ellipse class="k" style="fill:#fff" cx="272.5" cy="525.5" rx="1.7" ry="2.3" transform="rotate(-25 272.5 525.5)"/>
<path class="k2" style="fill:#fff" d="M285,516.5 L289,514.5 L292,517 L292,521.5 L288,523.5 L285,521Z"/>
<text x="263.5" y="491.3">25</text>
<path class="ld" d="M269.5,490.75 C270.67,492.17 271.73,493.5 273,495 C274.45,496.72 276.17,498.67 277.75,500.5" />
<path class="k" d="M299.5,491.5 C301.33,492.33 303.55,492.84 305,494 C306.32,495.06 306.68,496.65 308,498 C309.76,499.8 311.96,502.13 315,503.5 C319.17,505.38 326,505.5 331.5,506.5 L332.50,517.00 L332.5,517 C329.33,516.33 326.57,515.82 323,515 C318.35,513.93 310.9,512.98 307,511 C304.32,509.64 302.33,508.12 301,506 C299.63,503.82 299.21,500.54 299,498 C298.81,495.74 299.33,493.67 299.5,491.5" />
<path class="kt" d="M300.2,496 C301.13,497.83 301.6,500.02 303,501.5 C304.48,503.07 306.65,504.17 309,505 C311.83,506 315.48,506.05 319,506.5 C322.93,507 327.33,507.37 331.5,507.8" />
<ellipse class="f" cx="325.5" cy="512" rx="1.2" ry="1" />
<text x="283" y="482.05">26</text>
<path class="ld" d="M289,481.75 C290.33,483.17 291.66,484.54 293,486 C294.4,487.53 295.83,489.17 297.25,490.75" />
<path class="k" style="fill:#fff" d="M315.5,496.3 L325,495.6 L325.3,498.8 L315.8,499.5Z"/>
<ellipse class="f" cx="315.6" cy="497.9" rx="1" ry="1.6" />
<path class="f" d="M326.5,497 Q328.5,495 330.5,497 L330.5,502 Q328.5,504 326.5,502Z"/>
<ellipse class="k" cx="328.5" cy="499.3" rx="0.8" ry="1.2" style="stroke:#fff"/>
<text x="307" y="482.8">29</text>
<path class="ld" d="M309.25,485.5 C310.17,487 310.92,488.55 312,490 C313.15,491.55 314.67,493 316,494.5" />
<circle cx="303" cy="541.5" r="1.9" fill="#222"/>
<text x="282.5" y="558.3">18</text>
<path class="ld" d="M290,552.5 C291.67,551.33 293.35,550.23 295,549 C296.69,547.74 298.33,546.33 300,545" />
<path class="g" d="M475,475.51 L499.01,471.01 L541.01,496.51 L542.51,513.01 L526.01,549.01 L509.51,570.02 L439,553.51 L469,484.51 L475,475.51" />
<path class="dk" d="M471.92,485.19 C480.7,489.36 489.8,493.64 498.25,497.7 C506.12,501.48 514.9,506.53 521,508.75 C524.84,510.14 527.81,510.64 530.75,511.19 C533.12,511.63 536.29,510.67 537.25,512 C538.43,513.64 536.54,518.27 535.3,521.75 C533.69,526.24 530.37,531.57 527.5,536.37 C524.54,541.32 521.92,547.32 517.75,551 C513.73,554.55 508.8,557.07 503.12,558.31 C496.19,559.82 486.7,558.34 478.75,557.5 C471,556.68 459.63,557.23 456,553.44 C453.35,550.67 453.63,544.97 454.37,541.25 C455.09,537.68 457.61,534.22 460.06,531.5 C462.49,528.81 467.45,527.69 469,525 C470.33,522.68 470.39,519.34 469.81,516.87 C469.25,514.48 466.29,513.21 465.75,510.37 C464.91,506.01 467.68,497.1 469,492.5 C469.87,489.47 470.95,487.62 471.92,485.19" />
<ellipse class="k2" cx="479.5" cy="480.01" rx="2.8" ry="2.4" style="fill:#fff"/>
<ellipse class="f" cx="479.5" cy="480.01" rx="1" ry="0.8" />
<ellipse class="k2" cx="496.01" cy="478.51" rx="2.8" ry="2.4" style="fill:#fff"/>
<ellipse class="f" cx="496.01" cy="478.51" rx="1" ry="0.8" />
<ellipse class="k2" cx="521.51" cy="500.41" rx="2.8" ry="2.4" style="fill:#fff"/>
<ellipse class="f" cx="521.51" cy="500.41" rx="1" ry="0.8" />
<ellipse class="k2" cx="535.01" cy="499.51" rx="2.8" ry="2.4" style="fill:#fff"/>
<ellipse class="f" cx="535.01" cy="499.51" rx="1" ry="0.8" />
<ellipse class="k" cx="474.4" cy="499.51" rx="1.4" ry="1.2" />
<ellipse class="k" cx="512.51" cy="518.41" rx="1.4" ry="1.2" />
<path class="k" d="M523.44,520.12 C524.79,519.15 526.18,517.36 527.5,517.2 C528.6,517.06 530.09,517.58 530.75,518.5 C531.65,519.76 531.72,523.31 531.07,525 C530.53,526.42 528.65,528.4 527.82,528.25 C527.06,528.11 527.01,525.62 526.2,524.67 C525.39,523.73 524.03,523.27 522.95,522.56" />
<text x="548.5" y="556.8">16</text>
<path class="ld" d="M526,547.5 C529,549 532.07,550.99 535,552 C537.55,552.88 540,553 542.5,553.5" />
<path class="k" d="M579,450.19 L631,473.75 L637.5,477.32" />
<path class="k" d="M637.5,477.32 C639.66,477.49 641.89,478.23 644,477.81 C646.23,477.37 648.33,475.64 650.5,474.56" />
<path class="k" d="M650.5,474.56 C651.58,475.48 652.68,475.99 653.75,477.32 C655.42,479.43 657.05,483.43 658.62,486.75 C660.31,490.33 661.87,494.33 663.5,498.12" />
<path class="k" d="M663.5,498.12 C661.6,502.19 660.34,506.42 657.81,510.31 C655.04,514.57 651.4,519.13 647.25,522.5 C643.02,525.93 637.76,528.56 632.62,530.62 C627.47,532.68 622.3,534.09 616.37,534.85 C609.48,535.73 600.37,535.15 593.62,534.85 C588.21,534.61 583.87,533.98 579,533.55" />
<path class="k" d="M579,533.55 L548.94,522.5" />
<path class="k" d="M548.94,522.5 L565.19,507.06 L560.31,505.44 L575.75,455.06 L579,455.06 L579.81,452.62 L579,450.19" />
<ellipse class="k2" cx="579.00" cy="466.44" rx="2.7" ry="2.0" transform="rotate(35 579.00 466.44)"/>
<ellipse class="f" cx="579" cy="466.44" rx="0.9" ry="0.7" />
<ellipse class="k2" cx="622.06" cy="487.56" rx="2.7" ry="2.0" transform="rotate(35 622.06 487.56)"/>
<ellipse class="f" cx="622.06" cy="487.56" rx="0.9" ry="0.7" />
<circle cx="587.12" cy="458.31" r="1" fill="#222"/>
<circle cx="629.37" cy="479.44" r="1" fill="#222"/>
<text x="605.5" y="562.8">16</text>
<path class="ld" d="M605.5,540 C605.5,544 605.5,548 605.5,552" />
<rect class="k2" style="fill:#fff" x="598.80" y="443.20" width="10.09" height="4" rx="2" transform="rotate(130.0 598.80 445.20)"/>
<ellipse class="k3" style="fill:#fff" cx="598.80" cy="445.20" rx="2.2" ry="4" transform="rotate(130.0 598.80 445.20)"/>
<ellipse class="k" cx="599.57" cy="444.28" rx="1.2" ry="2.6" transform="rotate(130.0 598.80 445.20)"/>
<rect class="k2" style="fill:#fff" x="641.60" y="463.30" width="9.53" height="4" rx="2" transform="rotate(129.6 641.60 465.30)"/>
<ellipse class="k3" style="fill:#fff" cx="641.60" cy="465.30" rx="2.2" ry="4" transform="rotate(129.6 641.60 465.30)"/>
<ellipse class="k" cx="642.37" cy="464.38" rx="1.2" ry="2.6" transform="rotate(129.6 641.60 465.30)"/>
<text x="635" y="438.8">24</text>
<path class="ld" d="M627.5,437.5 C623.33,438 618.89,438.1 615,439 C611.43,439.83 608.33,441.33 605,442.5" />
<path class="ld" d="M635,440 C636,443.33 637.16,446.65 638,450 C638.83,453.31 639.33,456.67 640,460" />
<path class="k" style="fill:#fff" d="M553.5,481 L557.5,480.5 A4.2,6 0 0 1 557.5,492.8 L553.5,493 Z"/>
<ellipse class="k" cx="553.8" cy="486.9" rx="4.2" ry="6" style="fill:#fff"/>
<ellipse class="k" cx="570" cy="489.2" rx="3.3" ry="4.4" />
<text x="557.5" y="464.3">30</text>
<path class="ld" d="M557.5,467.5 C557.5,471.67 557.5,475.83 557.5,480" />
<ellipse class="k3" cx="495.2" cy="457.8" rx="2.6" ry="2.3" style="fill:#333"/>
<ellipse class="k" cx="495.2" cy="457.8" rx="0.9" ry="0.8" style="fill:#fff;stroke:none"/>
<rect class="k" style="fill:#fff" x="499" y="458.6" width="7" height="3.2" rx="1.6" transform="rotate(28 500.5 460.2)"/>
<path class="k2" style="fill:#fff" d="M503.3,460.5 l3,-1.2 l2.8,1.8 l-0.2,3.2 l-3,1.2 l-2.8,-1.8Z"/>
<text x="519" y="450.8">15</text>
<path class="ld" d="M500,451 C502.33,450 504.62,448.58 507,448 C509.29,447.44 511.67,447.67 514,447.5" />
<text x="530" y="460.3">28</text>
<path class="ld" d="M512.5,457.5 C514.33,457 516.04,456.26 518,456 C520.17,455.71 522.67,456 525,456" />
<rect x="127.5" y="760.8" width="544.5" height="2" fill="#444"/>
<text class="ft" x="282" y="776.7" style="white-space:pre" textLength="232" lengthAdjust="spacing">Eurosystems S.p.a.  |  Via G.Pastore, 8 - 42045 Luzzara RE</text>
</svg></body></html>
